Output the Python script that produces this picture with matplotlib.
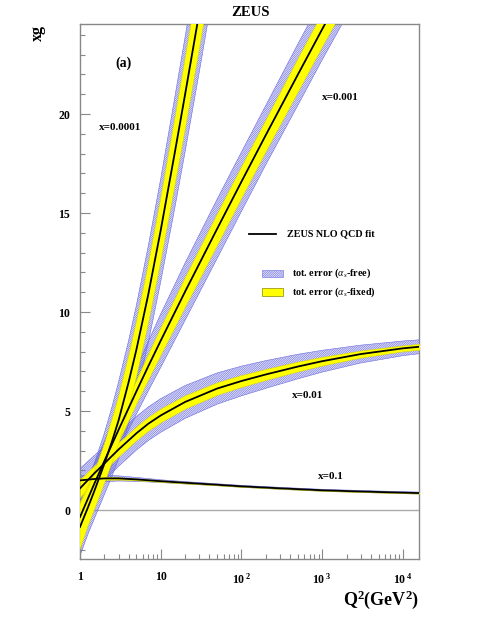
import matplotlib
matplotlib.use("Agg")
import matplotlib.pyplot as plt
from matplotlib.patches import Rectangle
from matplotlib.ticker import FixedLocator, NullFormatter, FixedFormatter
import numpy as np

plt.rcParams['font.family'] = ['Liberation Serif', 'DejaVu Serif']
plt.rcParams['mathtext.fontset'] = 'custom'
plt.rcParams['mathtext.rm'] = 'Liberation Serif'
plt.rcParams['mathtext.bf'] = 'Liberation Serif:bold'
plt.rcParams['mathtext.it'] = 'Liberation Serif:italic'
plt.rcParams['hatch.linewidth'] = 0.45

# ---- data ----
q2_x0001 = [1, 1.25, 1.5, 2, 2.5, 3, 4, 5, 7, 10, 15, 20, 30, 50]
xg_x0001 = [-0.85, 0.12, 0.95, 2.33, 3.49, 4.52, 6.46, 8.11, 10.88, 14.14, 18.1, 20.98, 25.12, 30.45]
fix_x0001 = [1.15, 0.95, 0.95, 1.0, 1.1, 1.2, 1.3, 1.4, 1.5, 1.6, 1.7, 1.8, 1.85, 1.9]
free_x0001 = [1.45, 1.35, 1.4, 1.55, 1.75, 1.95, 2.1, 2.25, 2.45, 2.6, 2.8, 2.9, 3.0, 3.05]

q2_x001 = [1, 1.5, 2, 3, 5, 7, 10, 20, 50, 100, 200, 500, 1000, 2000]
xg_x001 = [-0.35, 1.32, 2.47, 4.05, 6.0, 7.26, 8.56, 11.03, 14.21, 16.59, 18.94, 22.0, 24.29, 26.55]
fix_x001 = [0.8, 0.65, 0.6, 0.6, 0.6, 0.65, 0.7, 0.75, 0.8, 0.8, 0.8, 0.85, 0.85, 0.9]
free_x001 = [1.1, 1.0, 1.0, 1.05, 1.15, 1.25, 1.35, 1.45, 1.5, 1.5, 1.5, 1.55, 1.55, 1.6]

q2_x01 = [1, 1.5, 2, 3, 5, 7, 10, 20, 50, 100, 200, 500, 1000, 3000, 10000, 16000]
xg_x01 = [1.1, 1.85, 2.35, 3.06, 3.88, 4.36, 4.78, 5.46, 6.14, 6.52, 6.85, 7.25, 7.52, 7.88, 8.17, 8.25]
fix_x01 = [0.45, 0.4, 0.35, 0.35, 0.35, 0.35, 0.35, 0.34, 0.32, 0.3, 0.28, 0.25, 0.22, 0.18, 0.15, 0.15]
free_x01 = [1.0, 0.9, 0.85, 0.85, 0.85, 0.85, 0.85, 0.83, 0.79, 0.75, 0.7, 0.62, 0.55, 0.45, 0.37, 0.35]

q2_x1 = [1, 1.5, 2, 3, 5, 10, 20, 50, 100, 300, 1000, 3000, 10000, 16000]
xg_x1 = [1.5, 1.57, 1.6, 1.6, 1.55, 1.46, 1.38, 1.28, 1.2, 1.1, 1.0, 0.94, 0.88, 0.86]
fix_x1 = [0.12, 0.1, 0.08, 0.06, 0.05, 0.04, 0.04, 0.03, 0.03, 0.03, 0.03, 0.03, 0.03, 0.03]
free_x1 = [0.25, 0.2, 0.17, 0.13, 0.1, 0.07, 0.06, 0.05, 0.05, 0.05, 0.05, 0.05, 0.05, 0.05]

series_labels = ['x=0.1', 'x=0.01', 'x=0.001', 'x=0.0001']
x_ticks = [1, 10, 100, 1000, 10000]
x_ticklabels = ['1', '10', r'$\mathbf{10^{\ 2}}$', r'$\mathbf{10^{\ 3}}$', r'$\mathbf{10^{\ 4}}$']
y_ticks = [0, 5, 10, 15, 20]

series = [
    (q2_x1, xg_x1, fix_x1, free_x1),
    (q2_x01, xg_x01, fix_x01, free_x01),
    (q2_x001, xg_x001, fix_x001, free_x001),
    (q2_x0001, xg_x0001, fix_x0001, free_x0001),
]

fig = plt.figure(figsize=(4.91, 6.35), dpi=100)
ax = fig.add_axes([80/491, 76/635, 339/491, 535/635])
ax.set_xscale('log')
ax.set_xlim(1, 1.58e4)
ax.set_ylim(-2.47, 24.55)

hatch_col = '#6a6ae0'
HATCH = '//////////////////'
ax.axhline(0, color='#aaaaaa', lw=1.0, zorder=1)

for q2, xg, fx, fr in series:
    q2 = np.asarray(q2, float); xg = np.asarray(xg, float)
    fx = np.asarray(fx, float); fr = np.asarray(fr, float)
    ax.fill_between(q2, xg - fr, xg + fr, facecolor='none', edgecolor=hatch_col,
                    hatch=HATCH, linewidth=0.4, zorder=2)
    ax.fill_between(q2, xg - fx, xg + fx, facecolor='#ffff00', edgecolor='#d0d000',
                    linewidth=0.3, zorder=3)

for q2, xg, fx, fr in series:
    ax.plot(q2, xg, color='black', lw=1.3, zorder=5)

# axes styling
for s in ax.spines.values():
    s.set_color('#888888')
    s.set_linewidth(1.0)
ax.xaxis.set_major_locator(FixedLocator(x_ticks))
ax.xaxis.set_major_formatter(FixedFormatter(x_ticklabels))
minor_x = [m * 10**d for d in range(0, 5) for m in range(2, 10) if m * 10**d < 1.58e4]
ax.xaxis.set_minor_locator(FixedLocator(minor_x))
ax.xaxis.set_minor_formatter(NullFormatter())
ax.yaxis.set_major_locator(FixedLocator(y_ticks))
ax.yaxis.set_minor_locator(FixedLocator(list(range(-2, 25))))
ax.tick_params(axis='both', which='both', direction='in', color='#888888',
               top=False, right=False)
ax.tick_params(axis='both', which='major', length=7, width=0.8)
ax.tick_params(axis='both', which='minor', length=3.5, width=0.8)
ax.tick_params(axis='x', which='major', pad=9, labelsize=8.5)
ax.tick_params(axis='y', which='major', pad=7, labelsize=8.5)
for lab in ax.get_xticklabels() + ax.get_yticklabels():
    lab.set_fontweight('bold')

# texts
fig.text(250/491, 1 - 12/635, 'ZEUS', ha='center', va='center', fontsize=10.5, fontweight='bold')
fig.text(38/491, 1 - 33/635, 'xg', ha='center', va='center', rotation=90, fontsize=11.5, fontweight='bold')
fig.text(419/491, 1 - 600/635, r'Q$^{\mathbf{2}}$(GeV$^{\mathbf{2}}$)', ha='right', va='center',
         fontsize=13, fontweight='bold')

ax.text(0.127, 0.927, '(a)', transform=ax.transAxes, ha='center', va='center', fontsize=10, fontweight='bold')
lab_pos = [(0.740, 0.155), (0.670, 0.305), (0.767, 0.862), (0.118, 0.806)]
for lbl, (px, py) in zip(series_labels, lab_pos):
    ax.text(px, py, lbl, transform=ax.transAxes, ha='center', va='center', fontsize=8, fontweight='bold')

# legend
ax.plot([0.4985, 0.578], [0.6075, 0.6075], transform=ax.transAxes, color='black', lw=1.3, zorder=6)
ax.text(0.6106, 0.6075, 'ZEUS NLO QCD fit', transform=ax.transAxes, ha='left', va='center',
        fontsize=7.3, fontweight='bold')
ax.add_patch(Rectangle((0.537, 0.527), 0.062, 0.014, transform=ax.transAxes,
                       facecolor='white', edgecolor=hatch_col, hatch=HATCH, linewidth=0.4, zorder=6))
ax.text(0.625, 0.5346, r'tot. error ($\alpha_{s}$-free)', transform=ax.transAxes, ha='left', va='center',
        fontsize=7.3, fontweight='bold')
ax.add_patch(Rectangle((0.537, 0.4916), 0.062, 0.015, transform=ax.transAxes,
                       facecolor='#ffff00', edgecolor='#888800', linewidth=0.5, zorder=6))
ax.text(0.625, 0.499, r'tot. error ($\alpha_{s}$-fixed)', transform=ax.transAxes, ha='left', va='center',
        fontsize=7.3, fontweight='bold')

fig.savefig('out.png', dpi=100)
